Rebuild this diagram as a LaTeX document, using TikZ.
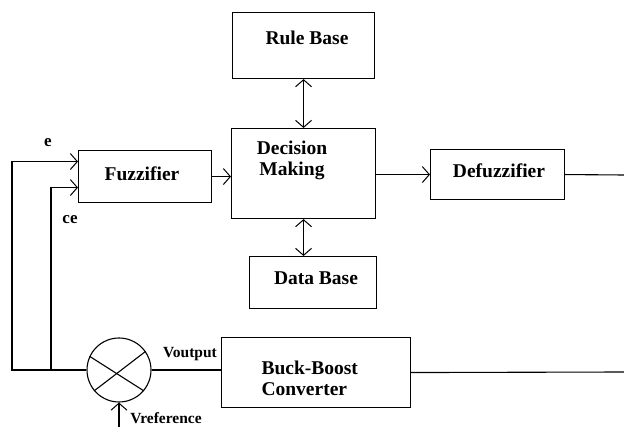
\documentclass[tikz,border=0pt]{standalone}
\usepackage{fontspec}
\setmainfont{Liberation Serif}
\usetikzlibrary{arrows.meta,calc}
\begin{document}
\begin{tikzpicture}[x=1pt,y=-1pt,
  line width=1.1pt,
  box/.style={draw,rectangle,inner sep=0pt,anchor=north west},
  txt/.style={inner sep=0pt,font=\fontsize{19.5}{21}\selectfont\bfseries},
  lbl/.style={inner sep=0pt,font=\fontsize{15.5}{17}\selectfont\bfseries},
  arr/.style={-{Straight Barb[length=7pt,width=16pt,line width=1pt]}},
  darr/.style={{Straight Barb[length=7pt,width=16pt,line width=1pt]}-{Straight Barb[length=7pt,width=16pt,line width=1pt]}}
]
\useasboundingbox (0,0) rectangle (624,427);
% boxes
\node[box,minimum width=142pt,minimum height=66pt] (rule) at (232,12) {};
\node[box,minimum width=144pt,minimum height=90pt] (dec) at (231,128) {};
\node[box,minimum width=127pt,minimum height=52pt] (data) at (249,256) {};
\node[box,minimum width=133pt,minimum height=52pt] (fuzz) at (78,150) {};
\node[box,minimum width=134pt,minimum height=50pt] (defuzz) at (430,149) {};
\node[box,minimum width=189pt,minimum height=70pt] (conv) at (221,337) {};
\node[draw,circle,minimum size=64pt,inner sep=0pt] (sum) at (119,370) {};
\draw (sum.155) -- (sum.-40);
\draw (sum.35) -- (sum.220);
% texts
\node[txt] (trule) at (307,38) {Rule Base};
\node[txt,align=center] (tdec) at (292,160) {Decision\\Making};
\node[txt] (tdata) at (316,278) {Data Base};
\node[txt] (tfuzz) at (142,174) {Fuzzifier};
\node[txt] (tdefuzz) at (499,171) {Defuzzifier};
\node[txt,align=left,anchor=west] (tconv) at (261,378) {Buck-Boost\\Converter};
\node[lbl,font=\fontsize{17}{19}\selectfont\bfseries] (le) at (48,143) {e};
\node[lbl,font=\fontsize{17}{19}\selectfont\bfseries] (lce) at (70,220) {ce};
\node[lbl] (lvout) at (190,354) {Voutput};
\node[lbl] (lvref) at (166,418.5) {Vreference};
% coordinates
\coordinate (eCorner) at (12,370);
\coordinate (ceFoot) at (51,370);
\coordinate (vref) at (119,427);
\coordinate (outTop) at (624,175);
\coordinate (outBot) at (624,372);
% connectors
\draw[darr] (rule.south) -- (dec.north -| rule.south);
\draw[darr] (dec.south) -- (data.north -| dec.south);
\draw[arr] (fuzz.east) -- (fuzz.east -| dec.west);
\draw[arr] ($(dec.east)+(0,1)$) -- ($(dec.east -| defuzz.west)+(0,1)$);
\draw (defuzz.east) -- (outTop);
\draw[arr] (sum.west) -- (eCorner) |- ($(fuzz.west)+(0,-15)$);
\draw[arr] (ceFoot) |- ($(fuzz.west)+(0,11)$);
\draw (sum.east) -- (sum.east -| conv.west);
\draw (conv.east) -- (outBot);
\draw[arr] (vref) -- (sum.south);
\end{tikzpicture}
\end{document}
